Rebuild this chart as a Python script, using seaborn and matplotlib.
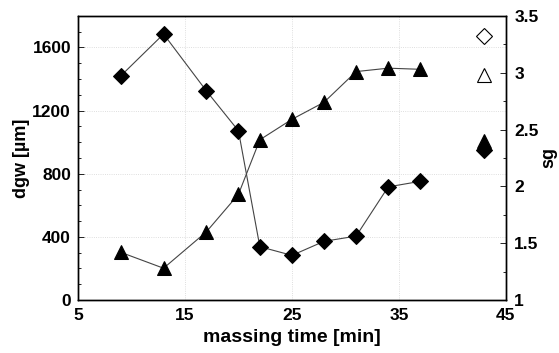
import matplotlib
matplotlib.use("Agg")
import matplotlib.pyplot as plt
import seaborn as sns
import numpy as np
from matplotlib.ticker import MultipleLocator

# data
time_min = [9, 13, 17, 20, 22, 25, 28, 31, 34, 37]
dgw = [1420, 1685, 1325, 1072, 338, 283, 372, 405, 717, 752]
sg = [1.42, 1.28, 1.60, 1.93, 2.41, 2.59, 2.74, 3.01, 3.04, 3.03]

# stray marker keys at the right edge (legend text lost in the original)
key_x = [43, 43, 43, 43]
key_y = [3.32, 2.98, 2.40, 2.32]
key_marker = ["D", "^", "^", "D"]
key_fill = ["white", "white", "black", "black"]

sns.set_style("white")
plt.rcParams["font.family"] = ["Liberation Sans", "DejaVu Sans"]
plt.rcParams["font.weight"] = "bold"
plt.rcParams["text.color"] = "black"
plt.rcParams["axes.labelcolor"] = "black"
plt.rcParams["xtick.color"] = "black"
plt.rcParams["ytick.color"] = "black"

fig = plt.figure(figsize=(5.59, 3.53), dpi=100)
ax = fig.add_axes([0.1395, 0.150, 0.7655, 0.805])
ax2 = ax.twinx()

sns.lineplot(x=time_min, y=dgw, ax=ax, color="#444444", lw=0.8,
             marker="D", markersize=8, markerfacecolor="black",
             markeredgecolor="black", zorder=3)
sns.lineplot(x=time_min, y=sg, ax=ax2, color="#444444", lw=0.8,
             marker="^", markersize=10, markerfacecolor="black",
             markeredgecolor="black", zorder=3)
for x, y, m, fc in zip(key_x, key_y, key_marker, key_fill):
    ax2.plot([x], [y], marker=m, markersize=8 if m == "D" else 10,
             markerfacecolor=fc, markeredgecolor="black", mew=0.8,
             linestyle="none")

ax.set_xlim(5, 45)
ax.set_ylim(0, 1800)
ax2.set_ylim(1, 3.5)
ax.set_xticks([5, 15, 25, 35, 45])
ax.set_yticks([0, 400, 800, 1200, 1600])
ax.yaxis.set_minor_locator(MultipleLocator(100))
ax.xaxis.set_minor_locator(MultipleLocator(2.5))
ax2.set_yticks([1, 1.5, 2, 2.5, 3, 3.5])
ax2.set_yticklabels(["1", "1.5", "2", "2.5", "3", "3.5"])
ax2.yaxis.set_minor_locator(MultipleLocator(0.25))

ax.grid(True, which="major", color="#d4d4d4", lw=0.6, ls=":")
for a in (ax, ax2):
    a.tick_params(which="both", direction="in", labelsize=12.5, width=0.6,
                  colors="black")
    a.tick_params(which="major", length=4)
    a.tick_params(which="minor", length=2)
    for s in a.spines.values():
        s.set_linewidth(1.0)
        s.set_color("black")
ax.tick_params(axis="x", pad=6)
ax.tick_params(axis="y", pad=5)
ax2.tick_params(axis="y", pad=6)
for lab in ax.get_xticklabels() + ax.get_yticklabels() + ax2.get_yticklabels():
    lab.set_fontweight("bold")

ax.set_xlabel("massing time [min]", fontsize=14, fontweight="bold", labelpad=4,
              color="black")
ax.set_ylabel("dgw [µm]", fontsize=13, fontweight="bold", labelpad=2,
              color="black")
ax2.set_ylabel("sg", fontsize=13, fontweight="bold", rotation=90, labelpad=1,
               color="black")

fig.savefig("out.png", dpi=100)
